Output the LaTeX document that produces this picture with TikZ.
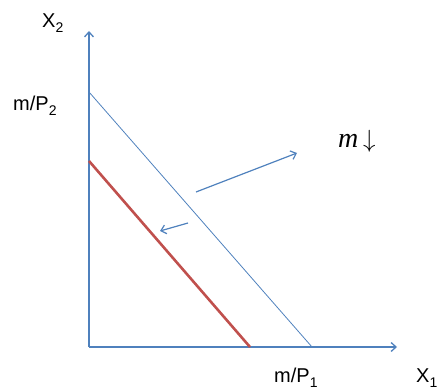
\documentclass[tikz,border=0pt]{standalone}
\usepackage{fontspec}
\setmainfont{Liberation Sans}
\newfontfamily\serifit{Liberation Serif}
\usetikzlibrary{arrows.meta}
\definecolor{axblue}{RGB}{79,129,189}
\definecolor{lnred}{RGB}{192,80,77}
\newcommand{\mysub}[1]{\raisebox{-0.25em}{\fontsize{14}{16}\selectfont #1}}
\tikzset{
  axisline/.style={draw=axblue, line width=1.3pt, -{Straight Barb[length=5pt,width=9pt]}},
  budget/.style={draw=axblue, line width=0.8pt},
  newbudget/.style={draw=lnred, line width=2.6pt},
  shiftarrow/.style={draw=axblue, line width=1.2pt, -{Straight Barb[length=5pt,width=9pt]}},
  lbl/.style={font=\fontsize{20}{24}\selectfont, inner sep=0pt, anchor=base west}
}
\begin{document}
\begin{tikzpicture}[x=1pt,y=-1pt]
\useasboundingbox (0,0) rectangle (439,390);
\coordinate (O) at (89,347);
\coordinate (ytop) at (89,31);
\coordinate (xend) at (397,347);
\coordinate (b1) at (89,92);
\coordinate (b2) at (312,347);
\coordinate (r1) at (89,161);
\coordinate (r2) at (250,347);
\coordinate (a1s) at (196,192);
\coordinate (a1e) at (297,153);
\coordinate (a2s) at (188,223);
\coordinate (a2e) at (160,231);
\draw[axisline] (O) -- (ytop);
\draw[axisline] (O) -- (xend);
\draw[budget] (b1) -- (b2);
\draw[newbudget] (r1) -- (r2);
\draw[shiftarrow] (a1s) -- (a1e);
\draw[shiftarrow] (a2s) -- (a2e);
\node[lbl] (lx2) at (42,28) {X\mysub{2}};
\node[lbl] (lmp2) at (13,111) {m/P\mysub{2}};
\node[lbl] (lmp1) at (274,382) {m/P\mysub{1}};
\node[lbl] (lx1) at (416,382) {X\mysub{1}};
\node[inner sep=0pt, anchor=base west, font=\fontsize{28}{30}\selectfont\serifit] (lm) at (338,148) {\textit{m}\,$\downarrow$};
\end{tikzpicture}
\end{document}
